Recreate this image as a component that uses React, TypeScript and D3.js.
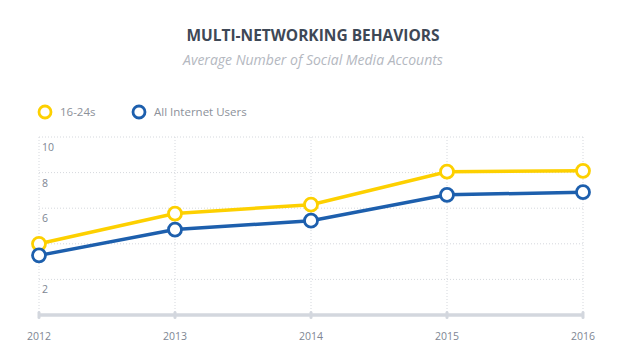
import React from "react";
import * as d3 from "d3";

const years = ["2012", "2013", "2014", "2015", "2016"];
const youth = [4.0, 5.7, 6.2, 8.05, 8.1];
const allUsers = [3.35, 4.8, 5.3, 6.75, 6.9];
const gridValues = [2, 4, 6, 8, 10];
const tickLabels = [2, 6, 8, 10];
const seriesNames = ["16-24s", "All Internet Users"];
const seriesColors = ["#fdd000", "#1d5fad"];

const W = 629;
const H = 362;

export default function App() {
  const x = d3.scalePoint<string>().domain(years).range([39, 583]);
  const y = d3.scaleLinear().domain([0, 10]).range([315, 137]);
  const line = d3
    .line<number>()
    .x((_, i) => x(years[i]) as number)
    .y((d) => y(d));
  const series = [youth, allUsers];
  const font = "'Open Sans', 'DejaVu Sans', sans-serif";
  return (
    <svg
      width={W}
      height={H}
      style={{ position: "absolute", left: 0, top: 0, background: "#fff" }}
      fontFamily={font}
    >
      <text x={313} y={41} textAnchor="middle" fontSize={15.5} fontWeight={700} fill="#3e4856">
        MULTI-NETWORKING BEHAVIORS
      </text>
      <text x={313} y={65} textAnchor="middle" fontSize={14} fontStyle="italic" fill="#b4b8bf">
        Average Number of Social Media Accounts
      </text>
      {/* legend */}
      {seriesNames.map((n, i) => {
        const lx = i === 0 ? 45 : 139;
        return (
          <g key={n}>
            <circle cx={lx} cy={112} r={6} fill="#fff" stroke={seriesColors[i]} strokeWidth={2.8} />
            <text x={lx + 15} y={116} fontSize={11.5} fill="#8c919a">
              {n}
            </text>
          </g>
        );
      })}
      {/* gridlines */}
      {gridValues.map((v) => (
        <line
          key={"h" + v}
          x1={x(years[0])}
          x2={x(years[years.length - 1])}
          y1={y(v)}
          y2={y(v)}
          stroke="#d5d8dd"
          strokeWidth={1}
          strokeDasharray="1,2"
        />
      ))}
      {years.map((yr) => (
        <line
          key={"v" + yr}
          x1={x(yr)}
          x2={x(yr)}
          y1={y(10)}
          y2={y(0)}
          stroke="#d5d8dd"
          strokeWidth={1}
          strokeDasharray="1,2"
        />
      ))}
      {tickLabels.map((v) => (
        <text key={"t" + v} x={42} y={y(v) + 14} fontSize={10.5} fill="#7e8693">
          {v}
        </text>
      ))}
      {/* x axis */}
      <line
        x1={x(years[0])}
        x2={x(years[years.length - 1])}
        y1={y(0)}
        y2={y(0)}
        stroke="#d3d7de"
        strokeWidth={3.5}
      />
      {years.map((yr) => (
        <g key={"a" + yr}>
          <rect x={(x(yr) as number) - 1.5} y={y(0) - 4} width={3} height={8} rx={1.5} fill="#d3d7de" />
          <text x={x(yr)} y={y(0) + 25} textAnchor="middle" fontSize={10.5} fill="#7e8693">
            {yr}
          </text>
        </g>
      ))}
      {/* series */}
      {series.map((s, si) => (
        <g key={"s" + si}>
          <path d={line(s) || ""} fill="none" stroke={seriesColors[si]} strokeWidth={3.5} />
          {s.map((v, i) => (
            <circle
              key={i}
              cx={x(years[i])}
              cy={y(v)}
              r={6.5}
              fill="#fff"
              stroke={seriesColors[si]}
              strokeWidth={2.8}
            />
          ))}
        </g>
      ))}
    </svg>
  );
}
